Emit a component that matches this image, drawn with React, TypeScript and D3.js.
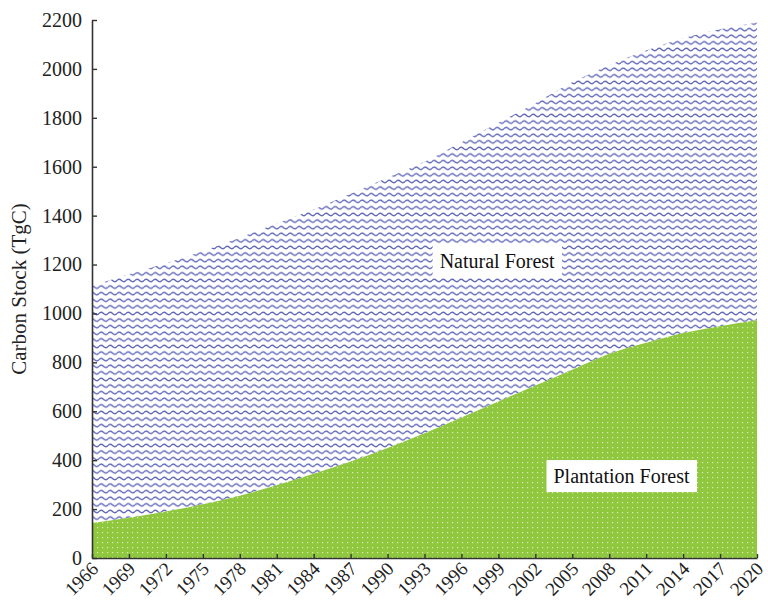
import * as d3 from "d3";
import { useEffect, useRef } from "react";

// years shown on the x axis (every 3 years)
const years = [
  1966, 1969, 1972, 1975, 1978, 1981, 1984, 1987, 1990, 1993, 1996, 1999,
  2002, 2005, 2008, 2011, 2014, 2017, 2020,
];
// carbon stock of plantation forest (TgC)
const plantation = [
  143, 165, 190, 220, 255, 298, 345, 395, 450, 510, 575, 640, 705, 770, 835,
  880, 920, 948, 972,
];
// carbon stock of natural forest (TgC), stacked on plantation
const natural = [
  969, 995, 1015, 1035, 1055, 1070, 1080, 1095, 1105, 1110, 1125, 1140, 1155,
  1175, 1180, 1195, 1205, 1214, 1218,
];
const yTicks = [0, 200, 400, 600, 800, 1000, 1200, 1400, 1600, 1800, 2000, 2200];

interface row {
  year: number;
  p: number;
  n: number;
}

export default function App() {
  const ref = useRef<SVGSVGElement>(null);

  useEffect(() => {
    if (!ref.current) return;
    document.body.style.margin = "0";
    const svg = d3.select(ref.current);
    svg.selectAll("*").remove();

    const data: row[] = years.map((y, i) => ({ year: y, p: plantation[i], n: natural[i] }));

    const x = d3.scaleLinear().domain([1966, 2020]).range([92, 757]);
    const y = d3.scaleLinear().domain([0, 2200]).range([558, 20]);
    const font = "'Liberation Serif', 'Times New Roman', serif";

    // patterns
    const defs = svg.append("defs");
    const wave = defs
      .append("pattern")
      .attr("id", "wave")
      .attr("patternUnits", "userSpaceOnUse")
      .attr("width", 9)
      .attr("height", 6.6);
    wave
      .append("path")
      .attr("d", "M0 3.3 Q2.25 0.9 4.5 3.3 T9 3.3")
      .attr("fill", "none")
      .attr("stroke", "#5d63b8")
      .attr("stroke-width", 1.3);

    const dots = defs
      .append("pattern")
      .attr("id", "dots")
      .attr("patternUnits", "userSpaceOnUse")
      .attr("width", 5)
      .attr("height", 5);
    dots.append("rect").attr("width", 5).attr("height", 5).attr("fill", "#8fc73e");
    dots
      .append("rect")
      .attr("x", 2)
      .attr("y", 2)
      .attr("width", 1.2)
      .attr("height", 1.2)
      .attr("fill", "#d9edb8");

    //stacked areas
    const natArea = d3
      .area<row>()
      .x((d) => x(d.year))
      .y0((d) => y(d.p))
      .y1((d) => y(d.p + d.n))
      .curve(d3.curveMonotoneX);
    const plaArea = d3
      .area<row>()
      .x((d) => x(d.year))
      .y0(y(0))
      .y1((d) => y(d.p))
      .curve(d3.curveMonotoneX);

    svg.append("path").datum(data).attr("d", natArea).attr("fill", "url(#wave)");
    svg.append("path").datum(data).attr("d", plaArea).attr("fill", "url(#dots)");

    // labels with white boxes
    const labels = [
      { text: "Natural Forest", year: 1998.9, value: 1214 },
      { text: "Plantation Forest", year: 2009, value: 335 },
    ];
    labels.forEach((l) => {
      const g = svg.append("g");
      const box = g.append("rect").attr("fill", "#ffffff");
      const t = g
        .append("text")
        .attr("x", x(l.year))
        .attr("y", y(l.value))
        .attr("dy", "0.35em")
        .attr("text-anchor", "middle")
        .attr("font-family", font)
        .attr("font-size", 20)
        .attr("fill", "#111")
        .text(l.text);
      const bb = (t.node() as SVGTextElement).getBBox();
      box
        .attr("x", bb.x - 7)
        .attr("y", bb.y - 5)
        .attr("width", bb.width + 14)
        .attr("height", bb.height + 10);
    });

    // y axis
    const yAxis = svg
      .append("g")
      .attr("transform", `translate(${x(1966)}, 0)`)
      .call(d3.axisLeft(y).tickValues(yTicks).tickSizeInner(-5).tickSizeOuter(0).tickPadding(10).tickFormat(d3.format("d")));
    yAxis.selectAll("text").attr("font-family", font).attr("font-size", 20).attr("fill", "#222");

    // x axis
    const xAxis = svg
      .append("g")
      .attr("transform", `translate(0, ${y(0)})`)
      .call(d3.axisBottom(x).tickValues(years).tickSizeInner(-4).tickSizeOuter(0).tickFormat(d3.format("d")));
    xAxis
      .selectAll("text")
      .attr("x", 0)
      .attr("y", 0)
      .attr("dy", 0)
      .attr("transform", "translate(7, 12) rotate(-45)")
      .style("text-anchor", "end")
      .attr("font-family", font)
      .attr("font-size", 19)
      .attr("fill", "#222");

    svg.selectAll(".domain").attr("stroke", "#333").attr("stroke-width", 1.6);
    svg.selectAll(".tick line").attr("stroke", "#333").attr("stroke-width", 1.4);

    // y axis title
    svg
      .append("text")
      .attr("transform", `translate(26, ${y(1100)}) rotate(-90)`)
      .attr("text-anchor", "middle")
      .attr("font-family", font)
      .attr("font-size", 21)
      .attr("fill", "#222")
      .text("Carbon Stock (TgC)");
  }, []);

  return (
    <svg
      ref={ref}
      width={768}
      height={601}
      style={{ position: "absolute", left: 0, top: 0, background: "#fff" }}
    />
  );
}
